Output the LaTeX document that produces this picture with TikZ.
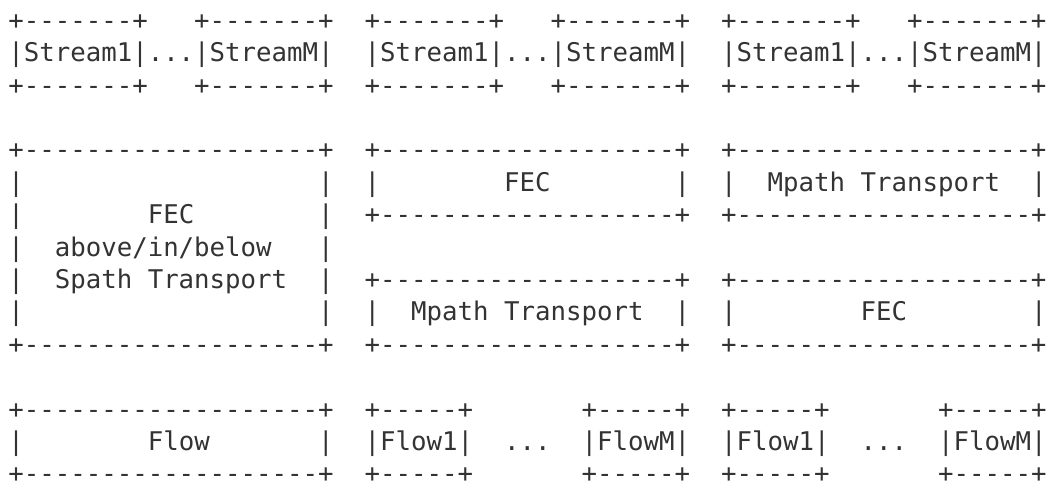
\documentclass[tikz,border=0pt]{standalone}
\usepackage{fontspec}
\setmonofont{DejaVu Sans Mono}
\usepackage{tikz}
\definecolor{asciiink}{HTML}{333333}
\newcommand{\asciigap}[1]{\hskip#1\fontcharwd\font`x\relax}
\tikzset{glyphrow/.style={font=\ttfamily\fontsize{25.74pt}{32.4pt}\selectfont,
		text=asciiink,inner sep=0pt,outer sep=0pt,anchor=base west}}

\begin{document}
\begin{tikzpicture}[x=15.5pt,y=-32.4pt]
			\useasboundingbox (-8.3pt,29.3pt) rectangle ++(1055pt,-483pt);
			% streams on top
			\node[glyphrow] (streamtop) at (0,0) {+-------+\asciigap{3}+-------+\asciigap{2}+-------+\asciigap{3}+-------+\asciigap{2}+-------+\asciigap{3}+-------+};
			\node[glyphrow] (streamname) at (0,1) {|Stream1|...|StreamM|\asciigap{2}|Stream1|...|StreamM|\asciigap{2}|Stream1|...|StreamM|};
			\node[glyphrow] (streambot) at (0,2) {+-------+\asciigap{3}+-------+\asciigap{2}+-------+\asciigap{3}+-------+\asciigap{2}+-------+\asciigap{3}+-------+};
			
			% FEC and transport layers
			\node[glyphrow] (coretop) at (0,4) {+-------------------+\asciigap{2}+-------------------+\asciigap{2}+-------------------+};
			\node[glyphrow] (core1) at (0,5) {|\asciigap{19}|\asciigap{2}|\asciigap{8}FEC\asciigap{8}|\asciigap{2}|\asciigap{2}Mpath Transport\asciigap{2}|};
			\node[glyphrow] (core2) at (0,6) {|\asciigap{8}FEC\asciigap{8}|\asciigap{2}+-------------------+\asciigap{2}+-------------------+};
			\node[glyphrow] (core3) at (0,7) {|\asciigap{2}above/in/below\asciigap{3}|};
			\node[glyphrow] (core4) at (0,8) {|\asciigap{2}Spath Transport\asciigap{2}|\asciigap{2}+-------------------+\asciigap{2}+-------------------+};
			\node[glyphrow] (core5) at (0,9) {|\asciigap{19}|\asciigap{2}|\asciigap{2}Mpath Transport\asciigap{2}|\asciigap{2}|\asciigap{8}FEC\asciigap{8}|};
			\node[glyphrow] (corebot) at (0,10) {+-------------------+\asciigap{2}+-------------------+\asciigap{2}+-------------------+};
			
			% flows at the bottom
			\node[glyphrow] (flowtop) at (0,12) {+-------------------+\asciigap{2}+-----+\asciigap{7}+-----+\asciigap{2}+-----+\asciigap{7}+-----+};
			\node[glyphrow] (flowname) at (0,13) {|\asciigap{8}Flow\asciigap{7}|\asciigap{2}|Flow1|\asciigap{2}...\asciigap{2}|FlowM|\asciigap{2}|Flow1|\asciigap{2}...\asciigap{2}|FlowM|};
			\node[glyphrow] (flowbot) at (0,14) {+-------------------+\asciigap{2}+-----+\asciigap{7}+-----+\asciigap{2}+-----+\asciigap{7}+-----+};
		\end{tikzpicture}
\end{document}
